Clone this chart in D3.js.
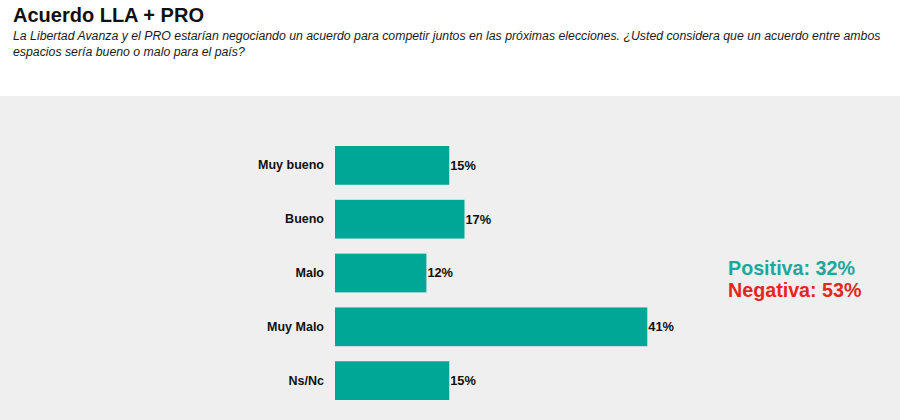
<!DOCTYPE html>
<html><head><meta charset="utf-8">
<script src="https://cdn.jsdelivr.net/npm/d3@7"></script>
<style>
html,body{margin:0;padding:0;background:#fff;}
svg{display:block;font-family:"Liberation Sans",Arial,sans-serif;}
</style></head>
<body>
<script>
const categories = ["Muy bueno","Bueno","Malo","Muy Malo","Ns/Nc"];
const values = [15,17,12,41,15];
const valueLabels = ["15%","17%","12%","41%","15%"];
const summaryLabels = ["Positiva: 32%","Negativa: 53%"];
const title = "Acuerdo LLA + PRO";
const subtitleLines = [
  "La Libertad Avanza y el PRO estarían negociando un acuerdo para competir juntos en las próximas elecciones. ¿Usted considera que un acuerdo entre ambos",
  "espacios sería bueno o malo para el país?"
];

const W = 900, H = 420;
const svg = d3.select("body").append("svg").attr("width", W).attr("height", H);

svg.append("rect").attr("x",0).attr("y",96).attr("width",W).attr("height",H-96).attr("fill","#efefef");

svg.append("text").attr("x",13).attr("y",22).attr("font-size",20).attr("font-weight","bold").attr("fill","#111").text(title);
svg.selectAll("text.sub").data(subtitleLines).enter().append("text")
  .attr("class","sub").attr("x",13).attr("y",(d,i)=>40+i*16)
  .attr("font-size",12.3).attr("font-style","italic").attr("fill","#1a1a1a").text(d=>d);

const x = d3.scaleLinear().domain([0,41]).range([335,647.3]);
const y = d3.scaleBand().domain(categories).range([146,400]).paddingInner(0.28).paddingOuter(0);

const g = svg.append("g");
g.selectAll("rect.bar").data(categories).enter().append("rect")
  .attr("class","bar")
  .attr("x", x(0)).attr("y", d=>y(d))
  .attr("width", (d,i)=>x(values[i])-x(0)).attr("height", y.bandwidth())
  .attr("fill","#00a797");

const yAxis = d3.axisLeft(y).tickSize(0).tickPadding(11);
const ax = svg.append("g").attr("transform",`translate(${x(0)},0)`).call(yAxis);
ax.select(".domain").remove();
ax.selectAll("text").attr("font-size",12.5).attr("font-weight","bold").attr("fill","#111")
  .attr("font-family","\"Liberation Sans\",Arial,sans-serif");

g.selectAll("text.val").data(categories).enter().append("text")
  .attr("class","val")
  .attr("x",(d,i)=>x(values[i])+1).attr("y",d=>y(d)+y.bandwidth()/2)
  .attr("dy","0.35em").attr("font-size",12.8).attr("font-weight","bold").attr("fill","#111")
  .text((d,i)=>valueLabels[i]);

const sumColors = ["#1ba89a","#e3271d"];
svg.selectAll("text.sum").data(summaryLabels).enter().append("text")
  .attr("class","sum").attr("x",728).attr("y",(d,i)=>275+i*22)
  .attr("font-size",19.7).attr("font-weight","bold").attr("fill",(d,i)=>sumColors[i]).text(d=>d);
</script>
</body></html>
